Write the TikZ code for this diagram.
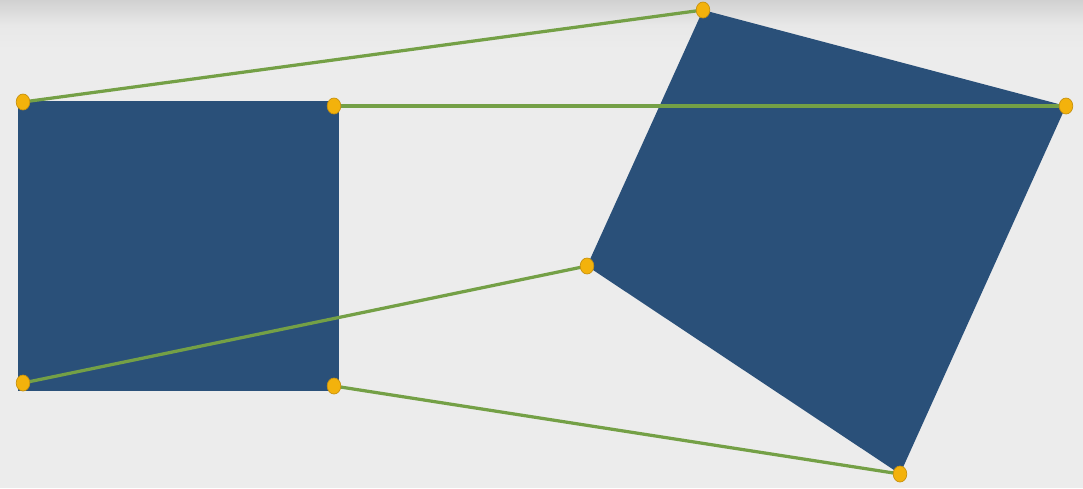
\documentclass[tikz,border=0pt]{standalone}
\usetikzlibrary{shapes.geometric, backgrounds}

\definecolor{panel}{HTML}{2A5079}
\definecolor{link}{HTML}{74A046}
\definecolor{knob}{HTML}{F3B20C}
\definecolor{knobrim}{HTML}{C8920E}
\definecolor{paper}{HTML}{ECECEC}

\begin{document}
\begin{tikzpicture}[
    x=0.025cm, y=-0.025cm,
    joint/.style={ellipse, draw=knobrim, line width=0.5pt, fill=knob,
                  inner sep=0pt, minimum width=0.34cm, minimum height=0.4cm},
    link/.style={draw=link, line width=2.3pt}]
  \useasboundingbox (0,0) rectangle (1083,488);
  % corner points: square on the left, warped quad on the right
  \node[joint] (stl) at (23,102) {};
  \node[joint] (str) at (334,106) {};
  \node[joint] (sbl) at (23,383) {};
  \node[joint] (sbr) at (334,386) {};
  \node[joint] (qt) at (703,10) {};
  \node[joint] (qr) at (1066,106) {};
  \node[joint] (qb) at (900,474) {};
  \node[joint] (ql) at (587,266) {};
  \begin{pgfonlayer}{background}
    \fill[paper] (0,0) rectangle (1083,488);
    \shade[top color=black!18, bottom color=paper, middle color=black!9]
      (0,0) rectangle (1083,50);
    \fill[panel] (18,101) rectangle (339,391);
    \fill[panel] (qt.center) -- (qr.center) -- (qb.center) -- (ql.center) -- cycle;
    \draw[link] (stl.center) -- (qt.center);
    \draw[link] (str.center) -- (qr.center);
    \draw[link] (sbl.center) -- (ql.center);
    \draw[link] (sbr.center) -- (qb.center);
  \end{pgfonlayer}
\end{tikzpicture}
\end{document}
